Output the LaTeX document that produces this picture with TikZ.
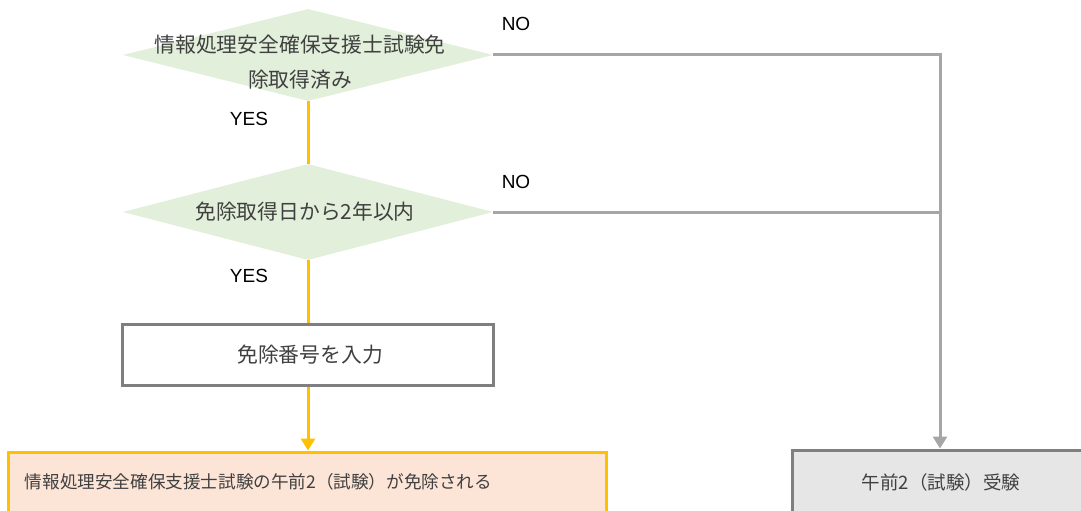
\documentclass[tikz,border=0pt]{standalone}
\usepackage{fontspec}
\setmainfont{Liberation Sans}
\newfontfamily\jp{Noto Sans CJK JP}
\usetikzlibrary{shapes.geometric,arrows.meta}
\definecolor{dgreen}{HTML}{E2EFDA}
\definecolor{lgray}{HTML}{A6A6A6}
\definecolor{bgray}{HTML}{7F7F7F}
\definecolor{gfill}{HTML}{E7E6E6}
\definecolor{oline}{HTML}{FFC000}
\definecolor{ofill}{HTML}{FCE4D6}
\definecolor{jtext}{HTML}{404040}
\tikzset{
  decision/.style={shape=diamond, fill=dgreen, draw=none, inner sep=0pt, minimum width=370pt},
  jlabel/.style={font=\jp\fontsize{20.8}{35}\selectfont, text=jtext, align=center, inner sep=0pt},
  ans/.style={font=\fontsize{19}{22}\selectfont, text=black, inner sep=0pt},
  yesline/.style={draw=oline, line width=3pt},
  noline/.style={draw=lgray, line width=3pt},
  tip/.style={-{Triangle[width=14pt,length=12pt]}}
}
\begin{document}
\begin{tikzpicture}[x=1pt,y=-1pt]
\useasboundingbox (0,0) rectangle (1081,511);
\clip (0,0) rectangle (1081,511);
% nodes
\node[decision, minimum height=92pt] (d1) at (308,55) {};
\node[jlabel] (t1) at (300,62) {情報処理安全確保支援士試験免\\除取得済み};
\node[decision, minimum height=96pt] (d2) at (308,212) {};
\node[jlabel] (t2) at (305,212) {免除取得日から2年以内};
\node[draw=bgray, line width=3pt, fill=white, minimum width=371pt, minimum height=61pt, inner sep=0pt] (r) at (308,355) {};
\node[jlabel] (t3) at (310,355) {免除番号を入力};
\node[draw=oline, line width=3pt, fill=ofill, minimum width=598pt, minimum height=62pt, inner sep=0pt] (ok) at (307.5,483) {};
\node[jlabel, font=\jp\fontsize{17.6}{20}\selectfont] (t4) at (258.5,482) {情報処理安全確保支援士試験の午前2（試験）が免除される};
\node[draw=bgray, line width=3pt, fill=gfill, minimum width=296pt, minimum height=62pt, inner sep=0pt] (ng) at (940,481) {};
\node[jlabel, font=\jp\fontsize{18.5}{20}\selectfont] (t5) at (941,482) {午前2（試験）受験};
% labels
\node[ans] (no1) at (516,24) {NO};
\node[ans] (no2) at (516,182) {NO};
\node[ans] (yes1) at (249,119) {YES};
\node[ans] (yes2) at (249,276) {YES};
% connectors
\coordinate (j1) at (940,55);
\coordinate (j2) at (940,212);
\draw[yesline] (d1.south) -- (d2.north);
\draw[yesline] (d2.south) -- (r.north);
\draw[yesline, tip] (r.south) -- (r.south |- ok.north);
\draw[noline, tip] (d1.east) -- (j1) -- (ng.north);
\draw[noline] (d2.east) -- (j2);
\end{tikzpicture}
\end{document}
